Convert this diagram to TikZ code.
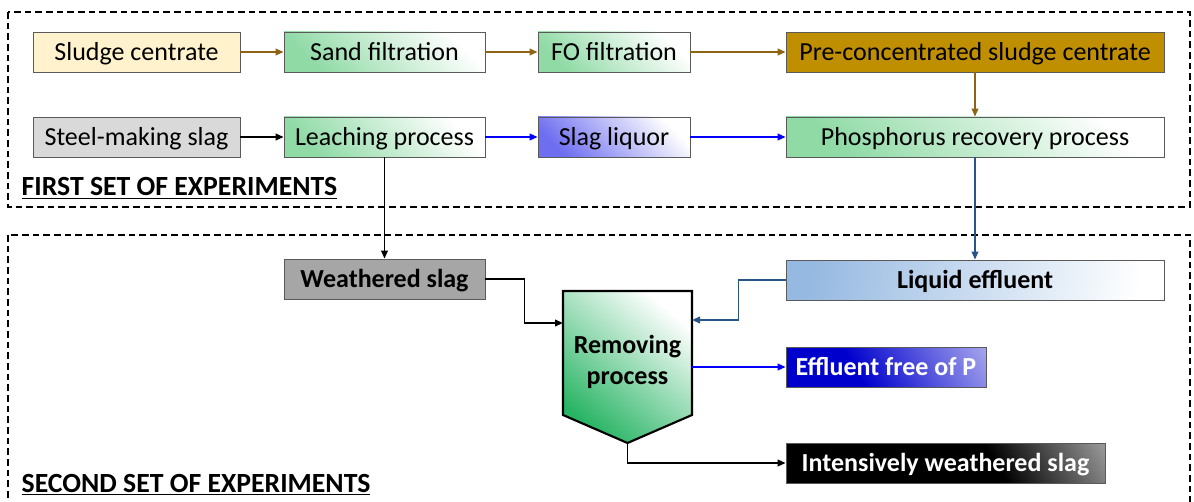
\documentclass[tikz,border=0pt]{standalone}
\usepackage{fontspec}
\setmainfont{Carlito}
\usetikzlibrary{arrows.meta}

\definecolor{boxline}{RGB}{90,90,90}
\definecolor{lyellow}{RGB}{255,242,204}
\definecolor{lgreen}{RGB}{143,218,165}
\definecolor{dgreen}{RGB}{40,180,100}
\definecolor{gold}{RGB}{191,143,0}
\definecolor{lgray}{RGB}{217,217,217}
\definecolor{mgray}{RGB}{166,166,166}
\definecolor{lviolet}{RGB}{110,110,240}
\definecolor{lsteel}{RGB}{150,185,225}
\definecolor{pblue}{RGB}{0,0,205}
\definecolor{brownarrow}{RGB}{140,100,20}
\definecolor{steelarrow}{RGB}{40,85,135}

\pgfdeclareverticalshading{blackcorner}{100bp}{color(0bp)=(black); color(60bp)=(black); color(100bp)=(white)}
\pgfdeclareverticalshading{bluecorner}{100bp}{color(0bp)=(pblue); color(40bp)=(pblue); color(100bp)=(pblue!12)}

\tikzset{
  box/.style={draw=boxline, line width=0.6pt, minimum height=30pt, inner sep=0pt,
    text depth=0.25ex, font=\fontsize{19.5}{22}\selectfont},
  boldbox/.style={box, font=\fontsize{19.5}{22}\selectfont\bfseries},
  greenbox/.style={box, bottom color=lgreen, top color=white, shading angle=-45},
  flow/.style={-{Triangle[length=6pt,width=5pt]}, line width=1.3pt},
  frame/.style={draw, dash pattern=on 5pt off 3pt, line width=1pt},
  setlabel/.style={anchor=base west, font=\fontsize{20.8}{24}\selectfont\bfseries}
}

\begin{document}
\begin{tikzpicture}[x=0.75pt, y=-0.75pt]
    \useasboundingbox (0,0) rectangle (1194,502);

    % the two sets
    \draw[frame] (8,12) rectangle (1190,207);
    \draw[frame] (8,235) rectangle (1190,530);
    \node[setlabel] (first) at (17,196) {\underline{FIRST SET OF EXPERIMENTS}};
    \node[setlabel] (second) at (17,492) {\underline{SECOND SET OF EXPERIMENTS}};

    % first row
    \node[box, fill=lyellow, minimum width=155.25pt] (sludge) at (136.5,52) {Sludge centrate};
    \node[greenbox, minimum width=150.75pt] (sand) at (384.5,52) {Sand filtration};
    \node[greenbox, minimum width=114pt] (fo) at (614,52) {FO filtration};
    \node[box, fill=gold, minimum width=283.5pt] (precon) at (975,52) {Pre-concentrated sludge centrate};

    % second row
    \node[box, fill=lgray, minimum width=155.25pt] (steel) at (136.5,137) {Steel-making slag};
    \node[greenbox, minimum width=150.75pt] (leach) at (384.5,137) {Leaching process};
    \node[box, bottom color=lviolet, top color=white, shading angle=-45, minimum width=114pt] (liquor) at (614,137) {Slag liquor};
    \node[greenbox, minimum width=283.5pt] (phos) at (975,137) {Phosphorus recovery process};

    \draw[flow, brownarrow] (sludge.east) -- (sand.west);
    \draw[flow, brownarrow] (sand.east) -- (fo.west);
    \draw[flow, brownarrow] (fo.east) -- (precon.west);
    \draw[flow, brownarrow] (precon.south) -- (phos.north);
    \draw[flow, black] (steel.east) -- (leach.west);
    \draw[flow, blue] (leach.east) -- (liquor.west);
    \draw[flow, blue] (liquor.east) -- (phos.west);

    % second set
    \node[boldbox, fill=mgray, minimum width=150.75pt] (weath) at (384.5,279) {Weathered slag};
    \node[boldbox, left color=lsteel, right color=white, shading angle=80, minimum width=283.5pt] (liquid) at (975,280) {Liquid effluent};
    \node[boldbox, shading=bluecorner, shading angle=-60, text=white, minimum width=150pt] (free) at (886,367) {Effluent free of P};
    \node[boldbox, shading=blackcorner, shading angle=-60, text=white, minimum width=239.25pt] (intens) at (945.5,463) {Intensively weathered slag};

    % removing process
    \draw[line width=1.6pt, bottom color=dgreen, top color=white, shading angle=-40]
        (563,291) -- (692,291) -- (692,415) -- (627.5,443) -- (563,415) -- cycle;
    \node[align=center, font=\fontsize{19.5}{23}\selectfont\bfseries] (rem) at (627.5,362) {Removing\\process};
    \coordinate (remin) at (563,323);
    \coordinate (remin2) at (692,320);
    \coordinate (remout) at (692,367);
    \coordinate (rembot) at (627.5,443);

    \draw[flow, black] (leach.south) -- (weath.north);
    \draw[flow, steelarrow] (phos.south) -- (liquid.north);
    \draw[flow, black] (weath.east) -- ++(39,0) |- (remin);
    \draw[flow, steelarrow] (liquid.west) -- ++(-47,0) |- (remin2);
    \draw[flow, blue] (remout) -- (remout -| free.west);
    \draw[flow, black] (rembot) |- (intens.west);

\end{tikzpicture}
\end{document}
